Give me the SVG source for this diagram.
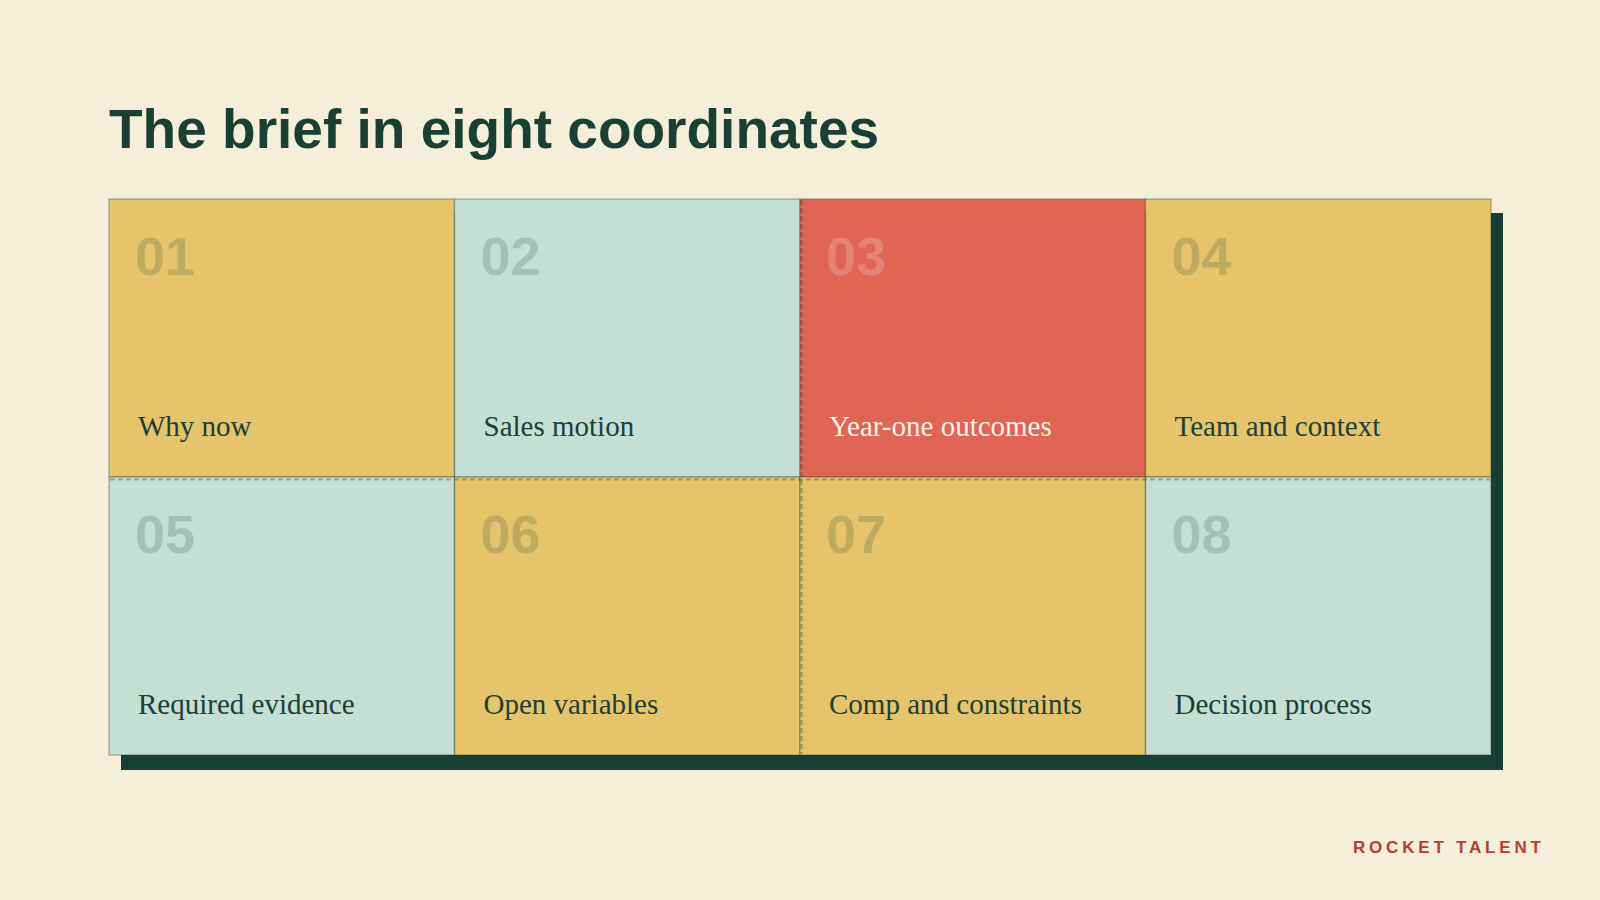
<svg xmlns="http://www.w3.org/2000/svg" width="1600" height="900" viewBox="0 0 1600 900">
<style>
.bg{fill:#F5EFDA}
.cell{stroke:#1A4036;stroke-opacity:0.32;stroke-width:1.5}
.y{fill:#E6C46B}
.m{fill:#C5DFD4}
.r{fill:#E06554}
.num{font-family:"Liberation Sans",Arial,sans-serif;font-weight:bold;font-size:54px;fill:#1A4036;fill-opacity:0.19}
.numw{font-family:"Liberation Sans",Arial,sans-serif;font-weight:bold;font-size:54px;fill:#FFFFFF;fill-opacity:0.2}
.lbl{font-family:"Liberation Serif","Times New Roman",serif;font-size:29px;fill:#1A4036}
.lblw{font-family:"Liberation Serif","Times New Roman",serif;font-size:29px;fill:#FBF3E6}
.dash{stroke:#1A4036;stroke-opacity:0.35;stroke-width:2;stroke-dasharray:5 3;fill:none}
</style>
<rect class="bg" x="0" y="0" width="1600" height="900"/>
<text x="109" y="148" font-family="Liberation Sans, Arial, sans-serif" font-weight="bold" font-size="55" fill="#1A4036">The brief in eight coordinates</text>
<rect x="121" y="213" width="1382" height="557" fill="#173F35"/>
<g id="cell-01"><rect class="cell y" x="109" y="199" width="345.5" height="278"/><text class="num" x="135" y="275">01</text><text class="lbl" x="138" y="436">Why now</text></g>
<g id="cell-02"><rect class="cell m" x="454.5" y="199" width="345.5" height="278"/><text class="num" x="480.5" y="275">02</text><text class="lbl" x="483.5" y="436">Sales motion</text></g>
<g id="cell-03"><rect class="cell r" x="800" y="199" width="345.5" height="278"/><text class="numw" x="826" y="275">03</text><text class="lblw" x="829" y="436">Year-one outcomes</text></g>
<g id="cell-04"><rect class="cell y" x="1145.5" y="199" width="345.5" height="278"/><text class="num" x="1171.5" y="275">04</text><text class="lbl" x="1174.5" y="436">Team and context</text></g>
<g id="cell-05"><rect class="cell m" x="109" y="477" width="345.5" height="278"/><text class="num" x="135" y="553">05</text><text class="lbl" x="138" y="714">Required evidence</text></g>
<g id="cell-06"><rect class="cell y" x="454.5" y="477" width="345.5" height="278"/><text class="num" x="480.5" y="553">06</text><text class="lbl" x="483.5" y="714">Open variables</text></g>
<g id="cell-07"><rect class="cell y" x="800" y="477" width="345.5" height="278"/><text class="num" x="826" y="553">07</text><text class="lbl" x="829" y="714">Comp and constraints</text></g>
<g id="cell-08"><rect class="cell m" x="1145.5" y="477" width="345.5" height="278"/><text class="num" x="1171.5" y="553">08</text><text class="lbl" x="1174.5" y="714">Decision process</text></g>
<g id="connectors">
<line class="dash" x1="110" y1="479.5" x2="1490" y2="479.5"/>
<line class="dash" x1="801.5" y1="200" x2="801.5" y2="754"/>
</g>
<text x="1353" y="853" font-family="Liberation Sans, Arial, sans-serif" font-weight="bold" font-size="17" letter-spacing="3.8" fill="#B5402F">ROCKET TALENT</text>
</svg>
